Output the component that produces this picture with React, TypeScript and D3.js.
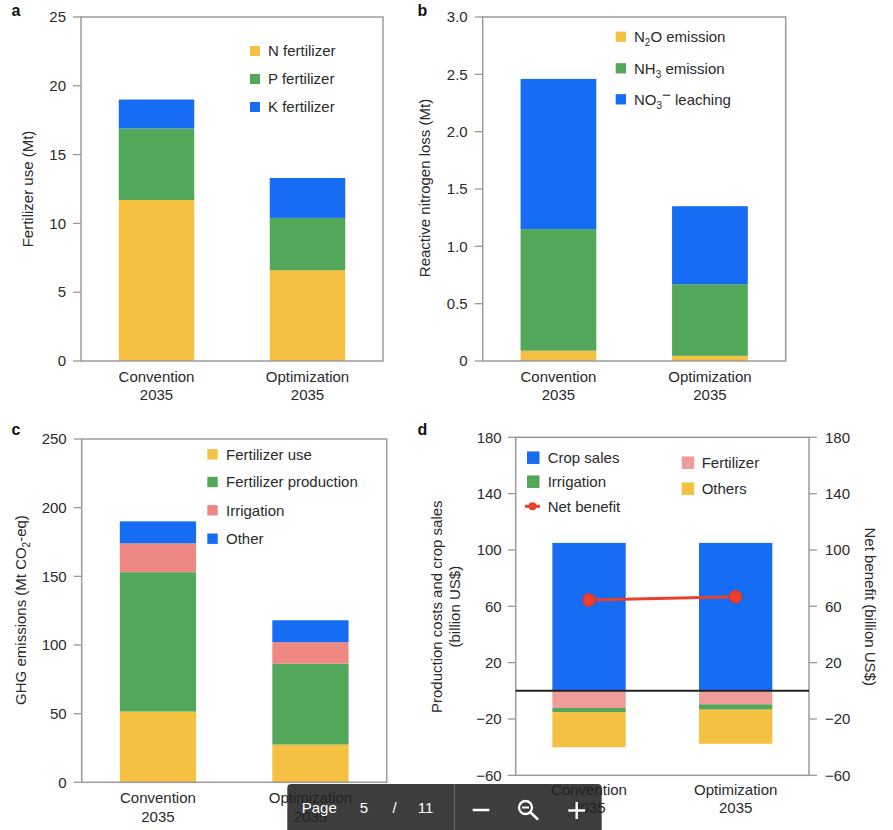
import React from "react";
import * as d3 from "d3";

// ---------- DATA ----------
const categories = ["Convention", "Optimization"];
const yearLabel = "2035";

// Panel a: fertilizer use (Mt), segment values
const nFertilizer = [11.7, 6.6];
const pFertilizer = [5.2, 3.8];
const kFertilizer = [2.1, 2.9];
const ticksA = [0, 5, 10, 15, 20, 25];

// Panel b: reactive nitrogen loss (Mt)
const n2oEmission = [0.09, 0.045];
const nh3Emission = [1.06, 0.625];
const no3Leaching = [1.31, 0.68];
const ticksB = [0, 0.5, 1.0, 1.5, 2.0, 2.5, 3.0];

// Panel c: GHG emissions (Mt CO2-eq)
const ghgFertilizerUse = [51.5, 27.5];
const ghgFertilizerProduction = [101.5, 59];
const ghgIrrigation = [21, 15.5];
const ghgOther = [16, 16];
const ticksC = [0, 50, 100, 150, 200, 250];

// Panel d: production costs and crop sales (billion US$)
const cropSales = [105, 105];
const fertilizerCost = [-12.2, -9.6];
const irrigationCost = [-2.9, -3.8];
const othersCost = [-25, -24.2];
const netBenefit = [64.5, 66.8];
const ticksD = [-60, -20, 20, 60, 100, 140, 180];

// ---------- STYLE ----------
const YELLOW = "#F5C143";
const GREEN = "#52A75B";
const BLUE = "#176CF4";
const PINK = "#EF8782";
const PINK_D = "#F09C98";
const RED = "#E8402A";
const AXIS = "#9a9a9a";
const TEXT = "#2a2a2a";
const FONT = "'Liberation Sans', Arial, Helvetica, sans-serif";
const FS = 15;

type Series = { key: string; values: number[]; color: string };

function StackedPanel(props: {
  x0: number; x1: number; y0: number; y1: number;
  domain: [number, number]; ticks: number[]; fmt: (v: number) => string;
  series: Series[]; labelY: number; labelY2: number;
}) {
  const { x0, x1, y0, y1, domain, ticks, fmt, series, labelY, labelY2 } = props;
  const x = d3.scaleBand<string>().domain(categories).range([x0, x1]).paddingInner(0.5).paddingOuter(0.25);
  const y = d3.scaleLinear().domain(domain).range([y1, y0]);
  const rows = categories.map((c, i) => {
    const r: any = { cat: c };
    series.forEach((s) => (r[s.key] = s.values[i]));
    return r;
  });
  const stack = d3.stack<any>().keys(series.map((s) => s.key));
  const layers = stack(rows);
  return (
    <g>
      {layers.map((layer, li) => (
        <g key={layer.key} fill={series[li].color}>
          {layer.map((d, i) => (
            <rect key={i} x={x(categories[i])} width={x.bandwidth()} y={y(d[1])} height={y(d[0]) - y(d[1])} />
          ))}
        </g>
      ))}
      <rect x={x0} y={y0} width={x1 - x0} height={y1 - y0} fill="none" stroke={AXIS} strokeWidth={1.5} />
      {ticks.map((t) => (
        <g key={t}>
          <line x1={x0 - 8} x2={x0} y1={y(t)} y2={y(t)} stroke={AXIS} strokeWidth={1.3} />
          <text x={x0 - 15} y={y(t)} dy="0.35em" textAnchor="end" fontSize={FS} fill={TEXT}>{fmt(t)}</text>
        </g>
      ))}
      {categories.map((c) => (
        <g key={c}>
          <text x={x(c)! + x.bandwidth() / 2} y={labelY} textAnchor="middle" fontSize={FS} fill={TEXT}>{c}</text>
          <text x={x(c)! + x.bandwidth() / 2} y={labelY2} textAnchor="middle" fontSize={FS} fill={TEXT}>{yearLabel}</text>
        </g>
      ))}
    </g>
  );
}

function LegendItem(props: { x: number; y: number; size: number; color: string; tx: number; children: any }) {
  const { x, y, size, color, tx, children } = props;
  return (
    <g>
      <rect x={x} y={y - size / 2} width={size} height={size} fill={color} />
      <text x={tx} y={y} dy="0.35em" fontSize={FS} fill={TEXT}>{children}</text>
    </g>
  );
}

function PanelD() {
  const x0 = 515.7, x1 = 809, y0 = 437.3, y1 = 775.3;
  const x = d3.scaleBand<string>().domain(categories).range([x0, x1]).paddingInner(0.5).paddingOuter(0.25);
  const y = d3.scaleLinear().domain([-60, 180]).range([y1, y0]);
  const series: Series[] = [
    { key: "crop", values: cropSales, color: BLUE },
    { key: "fert", values: fertilizerCost, color: PINK_D },
    { key: "irr", values: irrigationCost, color: GREEN },
    { key: "oth", values: othersCost, color: YELLOW },
  ];
  const rows = categories.map((c, i) => {
    const r: any = { cat: c };
    series.forEach((s) => (r[s.key] = s.values[i]));
    return r;
  });
  const layers = d3.stack<any>().keys(series.map((s) => s.key)).offset(d3.stackOffsetDiverging)(rows);
  const fmt = d3.format("d");
  const cx = (c: string) => x(c)! + x.bandwidth() / 2;
  const line = d3.line<number>().x((_, i) => cx(categories[i])).y((v) => y(v));
  return (
    <g>
      {layers.map((layer, li) => (
        <g key={layer.key} fill={series[li].color}>
          {layer.map((d, i) => (
            <rect key={i} x={x(categories[i])} width={x.bandwidth()} y={y(d[1])} height={y(d[0]) - y(d[1])} />
          ))}
        </g>
      ))}
      <rect x={x0} y={y0} width={x1 - x0} height={y1 - y0} fill="none" stroke={AXIS} strokeWidth={1.5} />
      <line x1={x0} x2={x1} y1={y(0)} y2={y(0)} stroke="#222" strokeWidth={2} />
      {ticksD.map((t) => (
        <g key={t}>
          <line x1={x0 - 8} x2={x0} y1={y(t)} y2={y(t)} stroke={AXIS} strokeWidth={1.3} />
          <text x={x0 - 14} y={y(t)} dy="0.35em" textAnchor="end" fontSize={FS} fill={TEXT}>{fmt(t)}</text>
          <line x1={x1} x2={x1 + 8} y1={y(t)} y2={y(t)} stroke={AXIS} strokeWidth={1.3} />
          <text x={x1 + 16} y={y(t)} dy="0.35em" textAnchor="start" fontSize={FS} fill={TEXT}>{fmt(t)}</text>
        </g>
      ))}
      <path d={line(netBenefit)!} fill="none" stroke={RED} strokeWidth={3} />
      {netBenefit.map((v, i) => (
        <circle key={i} cx={cx(categories[i])} cy={y(v)} r={6.5} fill={RED} stroke="#c8301f" strokeWidth={0.8} />
      ))}
      {categories.map((c) => (
        <g key={c}>
          <text x={cx(c)} y={795} textAnchor="middle" fontSize={FS} fill={TEXT}>{c}</text>
          <text x={cx(c)} y={813} textAnchor="middle" fontSize={FS} fill={TEXT}>{yearLabel}</text>
        </g>
      ))}
      {/* legend */}
      <LegendItem x={527} y={457.7} size={12.5} color={BLUE} tx={547.7}>Crop sales</LegendItem>
      <LegendItem x={527} y={481.7} size={12.5} color={GREEN} tx={547.7}>Irrigation</LegendItem>
      <line x1={525} x2={540} y1={506.3} y2={506.3} stroke={RED} strokeWidth={3} />
      <circle cx={532.5} cy={506.3} r={4} fill={RED} />
      <text x={547.7} y={506.3} dy="0.35em" fontSize={FS} fill={TEXT}>Net benefit</text>
      <LegendItem x={681.7} y={462.7} size={12.5} color={PINK_D} tx={701.7}>Fertilizer</LegendItem>
      <LegendItem x={681.7} y={488.7} size={12.5} color={YELLOW} tx={701.7}>Others</LegendItem>
      {/* axis titles */}
      <text transform="translate(436.7,606.7) rotate(-90)" textAnchor="middle" dy="0.35em" fontSize={FS} fill={TEXT}>Production costs and crop sales</text>
      <text transform="translate(455,606.7) rotate(-90)" textAnchor="middle" dy="0.35em" fontSize={FS} fill={TEXT}>(billion US$)</text>
      <text transform="translate(870,606.7) rotate(90)" textAnchor="middle" dy="0.35em" fontSize={FS} fill={TEXT}>Net benefit (billion US$)</text>
    </g>
  );
}

function Toolbar() {
  const top = 784;
  return (
    <g>
      <rect x={287.3} y={top} width={314.4} height={60} rx={4} fill="#202020" fillOpacity={0.87} />
      <line x1={454.3} x2={454.3} y1={top} y2={830} stroke="#6a6a6a" strokeWidth={1} />
      <text x={301.7} y={813} fontSize={15} fill="#fff">Page</text>
      <text x={364} y={813} fontSize={15} fill="#fff" textAnchor="middle">5</text>
      <text x={394.5} y={813} fontSize={15} fill="#fff" textAnchor="middle">/</text>
      <text x={425.5} y={813} fontSize={15} fill="#fff" textAnchor="middle">11</text>
      <line x1={472.7} x2={489.3} y1={810} y2={810} stroke="#fff" strokeWidth={2.5} />
      <circle cx={525.5} cy={807.5} r={6.5} fill="none" stroke="#fff" strokeWidth={2.3} />
      <line x1={522} x2={529} y1={807.5} y2={807.5} stroke="#fff" strokeWidth={2} />
      <line x1={530.5} x2={537.5} y1={812.5} y2={819} stroke="#fff" strokeWidth={2.5} strokeLinecap="round" />
      <line x1={568.3} x2={585} y1={810.5} y2={810.5} stroke="#fff" strokeWidth={2.5} />
      <line x1={576.7} x2={576.7} y1={802} y2={819} stroke="#fff" strokeWidth={2.5} />
    </g>
  );
}

export default function App() {
  const fmtInt = d3.format("d");
  const fmtB = (v: number) => (v === 0 ? "0" : d3.format(".1f")(v));
  return (
    <svg width={893} height={830} style={{ position: "absolute", left: 0, top: 0, background: "#fff" }} fontFamily={FONT}>
      <rect width={893} height={830} fill="#fff" />
      {/* Panel a */}
      <text x={11.5} y={16} fontSize={16} fontWeight="bold" fill="#111">a</text>
      <StackedPanel x0={81} x1={383} y0={17} y1={361} domain={[0, 25]} ticks={ticksA} fmt={fmtInt}
        series={[
          { key: "N", values: nFertilizer, color: YELLOW },
          { key: "P", values: pFertilizer, color: GREEN },
          { key: "K", values: kFertilizer, color: BLUE },
        ]} labelY={382} labelY2={400} />
      <LegendItem x={250} y={51} size={10} color={YELLOW} tx={268}>N fertilizer</LegendItem>
      <LegendItem x={250} y={79} size={10} color={GREEN} tx={268}>P fertilizer</LegendItem>
      <LegendItem x={250} y={107} size={10} color={BLUE} tx={268}>K fertilizer</LegendItem>
      <text transform="translate(28,189) rotate(-90)" textAnchor="middle" dy="0.35em" fontSize={FS} fill={TEXT}>Fertilizer use (Mt)</text>

      {/* Panel b */}
      <text x={417.5} y={16} fontSize={16} fontWeight="bold" fill="#111">b</text>
      <StackedPanel x0={482.7} x1={785.7} y0={17} y1={361} domain={[0, 3]} ticks={ticksB} fmt={fmtB}
        series={[
          { key: "N2O", values: n2oEmission, color: YELLOW },
          { key: "NH3", values: nh3Emission, color: GREEN },
          { key: "NO3", values: no3Leaching, color: BLUE },
        ]} labelY={382} labelY2={400} />
      <LegendItem x={615.7} y={36.7} size={10.3} color={YELLOW} tx={634}>
        <tspan>N</tspan><tspan fontSize={10} dy="4">2</tspan><tspan dy="-4">O emission</tspan>
      </LegendItem>
      <LegendItem x={615.7} y={68.3} size={10.3} color={GREEN} tx={634}>
        <tspan>NH</tspan><tspan fontSize={10} dy="4">3</tspan><tspan dy="-4"> emission</tspan>
      </LegendItem>
      <LegendItem x={615.7} y={99.3} size={10.3} color={BLUE} tx={634}>
        <tspan>NO</tspan><tspan fontSize={10} dy="4">3</tspan><tspan dy="-9">−</tspan><tspan dy="5"> leaching</tspan>
      </LegendItem>
      <text transform="translate(425,188) rotate(-90)" textAnchor="middle" dy="0.35em" fontSize={FS} fill={TEXT}>Reactive nitrogen loss (Mt)</text>

      {/* Panel c */}
      <text x={11.5} y={435} fontSize={16} fontWeight="bold" fill="#111">c</text>
      <StackedPanel x0={81.7} x1={386.7} y0={439} y1={782.3} domain={[0, 250]} ticks={ticksC} fmt={fmtInt}
        series={[
          { key: "use", values: ghgFertilizerUse, color: YELLOW },
          { key: "prod", values: ghgFertilizerProduction, color: GREEN },
          { key: "irr", values: ghgIrrigation, color: PINK },
          { key: "oth", values: ghgOther, color: BLUE },
        ]} labelY={803} labelY2={821.5} />
      <LegendItem x={207.3} y={454.3} size={10.4} color={YELLOW} tx={226}>Fertilizer use</LegendItem>
      <LegendItem x={207.3} y={482} size={10.4} color={GREEN} tx={226}>Fertilizer production</LegendItem>
      <LegendItem x={207.3} y={510.3} size={10.4} color={PINK} tx={226}>Irrigation</LegendItem>
      <LegendItem x={207.3} y={538.7} size={10.4} color={BLUE} tx={226}>Other</LegendItem>
      <text transform="translate(21,610) rotate(-90)" textAnchor="middle" dy="0.35em" fontSize={FS} fill={TEXT}>
        <tspan>GHG emissions (Mt CO</tspan><tspan fontSize={10} dy="4">2</tspan><tspan dy="-4">-eq)</tspan>
      </text>

      {/* Panel d */}
      <text x={417.5} y={435} fontSize={16} fontWeight="bold" fill="#111">d</text>
      <PanelD />

      <Toolbar />
    </svg>
  );
}
